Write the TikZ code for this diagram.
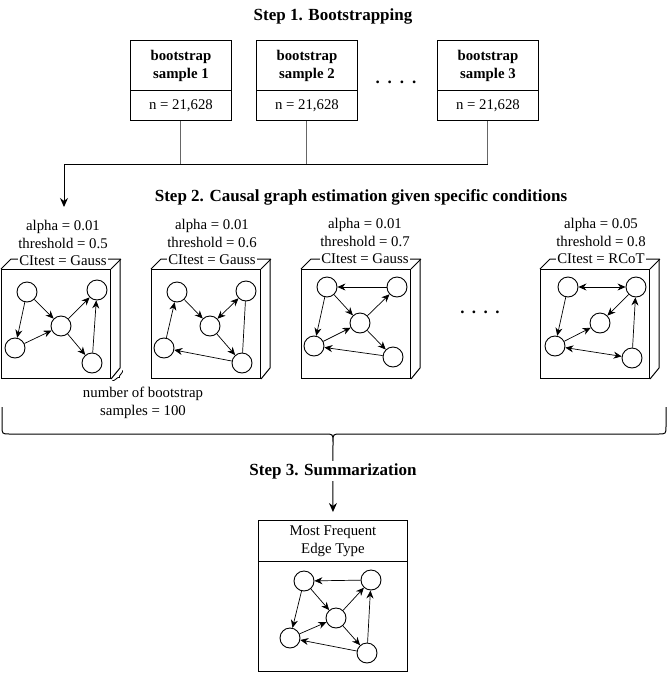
\documentclass[tikz,border=0pt]{standalone}
\usepackage{fontspec}
\setmainfont{Liberation Serif}
\usetikzlibrary{arrows.meta,decorations.pathreplacing}
\newcommand{\drawcubebox}[2]{%
  \node[cubefront, anchor=north west] (#2) at (#1,269) {};
  \draw[cubeline] (#2.north west) -- ++(10,-10) -- ++(109,0) -- ++(0,109) -- (#2.south east);
  \draw[cubeline] (#2.north east) -- ++(10,-10);
}
\begin{document}
\begin{tikzpicture}[x=1pt,y=-1pt,
  txt/.style={font=\fontsize{14.8}{18}\selectfont, align=center, inner sep=1pt},
  ttl/.style={font=\fontsize{17}{20}\selectfont\bfseries, inner sep=2pt},
  topbox/.style={draw, line width=0.9pt, minimum width=101pt, minimum height=50pt, inner sep=0pt, anchor=north west, align=center, font=\fontsize{14.8}{18}\selectfont\bfseries},
  botbox/.style={draw, line width=0.9pt, minimum width=101pt, minimum height=30pt, inner sep=0pt, anchor=north west, font=\fontsize{14.8}{18}\selectfont},
  cubefront/.style={draw, line width=1pt, minimum width=109pt, minimum height=109pt, inner sep=0pt},
  cubeline/.style={line width=1pt},
  gn/.style={circle, draw, line width=0.9pt, minimum size=20pt, inner sep=0pt},
  arr/.style={line width=0.7pt, -{Stealth[length=8pt,width=7pt]}},
  darr/.style={line width=0.7pt, {Stealth[length=8pt,width=7pt]}-{Stealth[length=8pt,width=7pt]}},
  pl/.style={line width=0.7pt},
  conn/.style={line width=1pt, draw=black!60},
  hconn/.style={line width=1pt}
]
\useasboundingbox (0,0) rectangle (667,681);

% Step 1
\node[ttl] (s1) at (333,16) {Step 1. Bootstrapping};
\node[topbox] (b1t) at (130,40) {bootstrap\\sample 1};
\node[botbox] (b1b) at (130,90) {n = 21,628};
\node[topbox] (b2t) at (256,40) {bootstrap\\sample 2};
\node[botbox] (b2b) at (256,90) {n = 21,628};
\node[topbox] (b3t) at (437,40) {bootstrap\\sample 3};
\node[botbox] (b3b) at (437,90) {n = 21,628};
\node[font=\fontsize{17}{20}\selectfont\bfseries, anchor=base] (dots1) at (396,83) {.\hspace{8pt}.\hspace{8pt}.\hspace{8pt}.};

\coordinate (jl) at (64,164);
\coordinate (jend) at (64,207);
\draw[conn] (b1b.south) -- (b1b.south |- jl);
\draw[conn] (b2b.south) -- (b2b.south |- jl);
\draw[conn] (b3b.south) -- (b3b.south |- jl);
\draw[hconn] (b3b.south |- jl) -- (jl);
\draw[line width=1pt, -{Stealth[length=9pt,width=8pt]}] (jl) -- (jend);

% Step 2
\node[ttl] (s2) at (361,197) {Step 2. Causal graph estimation given specific conditions};

\drawcubebox{1}{c1}
\drawcubebox{151}{c2}
\drawcubebox{301}{c3}
\drawcubebox{540}{c4}

\node[txt] (c1p) at (63,234) {alpha = 0.01\\threshold = 0.5};
\node[txt, fill=white] (c1c) at (63,261) {CItest = Gauss};
\node[txt] (c2p) at (212,233) {alpha = 0.01\\threshold = 0.6};
\node[txt, fill=white] (c2c) at (212,260) {CItest = Gauss};
\node[txt] (c3p) at (365,232) {alpha = 0.01\\threshold = 0.7};
\node[txt, fill=white] (c3c) at (365,259) {CItest = Gauss};
\node[txt] (c4p) at (601,232) {alpha = 0.05\\threshold = 0.8};
\node[txt, fill=white] (c4c) at (601,259) {CItest = RCoT};

\node[font=\fontsize{17}{20}\selectfont\bfseries, anchor=base] (dots2) at (480,313) {.\hspace{7.5pt}.\hspace{7.5pt}.\hspace{7.5pt}.};

% graph 1
\node[gn] (g1a) at (27,292) {};
\node[gn] (g1b) at (97,290) {};
\node[gn] (g1c) at (61,326) {};
\node[gn] (g1d) at (15,348) {};
\node[gn] (g1e) at (92,363) {};
\draw[arr] (g1a) -- (g1d);
\draw[arr] (g1a) -- (g1c);
\draw[arr] (g1d) -- (g1c);
\draw[arr] (g1c) -- (g1b);
\draw[arr] (g1c) -- (g1e);
\draw[arr] (g1e) -- (g1b);

% graph 2
\node[gn] (g2a) at (177,292) {};
\node[gn] (g2b) at (246,291) {};
\node[gn] (g2c) at (210,326) {};
\node[gn] (g2d) at (164,348) {};
\node[gn] (g2e) at (242,363) {};
\draw[arr] (g2d) -- (g2a);
\draw[arr] (g2a) -- (g2c);
\draw[darr] (g2b) -- (g2c);
\draw[arr] (g2c) -- (g2e);
\draw[arr] (g2e) -- (g2d);
\draw[pl] (g2e) -- (g2b);

% graph 3
\node[gn] (g3a) at (327,287) {};
\node[gn] (g3b) at (397,287) {};
\node[gn] (g3c) at (360,323) {};
\node[gn] (g3d) at (314,346) {};
\node[gn] (g3e) at (393,357) {};
\draw[arr] (g3b) -- (g3a);
\draw[arr] (g3a) -- (g3c);
\draw[arr] (g3a) -- (g3d);
\draw[arr] (g3d) -- (g3c);
\draw[arr] (g3c) -- (g3b);
\draw[arr] (g3c) -- (g3e);
\draw[arr] (g3e) -- (g3d);

% graph 4
\node[gn] (g4a) at (568,287) {};
\node[gn] (g4b) at (636,287) {};
\node[gn] (g4c) at (600,323) {};
\node[gn] (g4d) at (555,346) {};
\node[gn] (g4e) at (632,358) {};
\draw[darr] (g4a) -- (g4b);
\draw[arr] (g4a) -- (g4d);
\draw[arr] (g4d) -- (g4c);
\draw[arr] (g4b) -- (g4c);
\draw[darr] (g4d) -- (g4e);
\draw[arr] (g4e) -- (g4b);

% depth brace and note
\coordinate (db1) at (121,369);
\coordinate (db2) at (111,379);
\draw[line width=0.8pt, decorate, decoration={brace, amplitude=3pt, raise=2pt}] (db1) -- (db2);
\node[txt] (note) at (143,403) {number of bootstrap\\samples = 100};

% big brace
\coordinate (btip) at (333,442);
\draw[line width=1pt] (2,407) -- (2,426) .. controls (2,434) .. (10,434) -- (325,434) .. controls (333,434) .. (btip)
  .. controls (333,434) .. (341,434) -- (658,434) .. controls (666,434) .. (666,426) -- (666,407);

% Step 3
\node[draw, line width=0.9pt, minimum width=149pt, minimum height=41pt, inner sep=0pt, anchor=north west, align=center, font=\fontsize{14.8}{18}\selectfont] (sumt) at (258,520) {Most Frequent\\Edge Type};
\node[draw, line width=0.9pt, minimum width=149pt, minimum height=110pt, inner sep=0pt, anchor=north west] (sumb) at (258,561) {};
\draw[line width=1pt, -{Stealth[length=9pt,width=8pt]}, shorten >=8pt] (btip) -- (sumt.north);
\node[ttl, fill=white] (s3) at (333,471) {Step 3. Summarization};

% graph 5
\node[gn] (g5a) at (304,581) {};
\node[gn] (g5b) at (371,580) {};
\node[gn] (g5c) at (336,618) {};
\node[gn] (g5d) at (290,638) {};
\node[gn] (g5e) at (367,653) {};
\draw[arr] (g5b) -- (g5a);
\draw[arr] (g5a) -- (g5c);
\draw[arr] (g5a) -- (g5d);
\draw[arr] (g5d) -- (g5c);
\draw[arr] (g5c) -- (g5b);
\draw[arr] (g5c) -- (g5e);
\draw[arr] (g5e) -- (g5d);
\draw[arr] (g5e) -- (g5b);
\end{tikzpicture}
\end{document}
